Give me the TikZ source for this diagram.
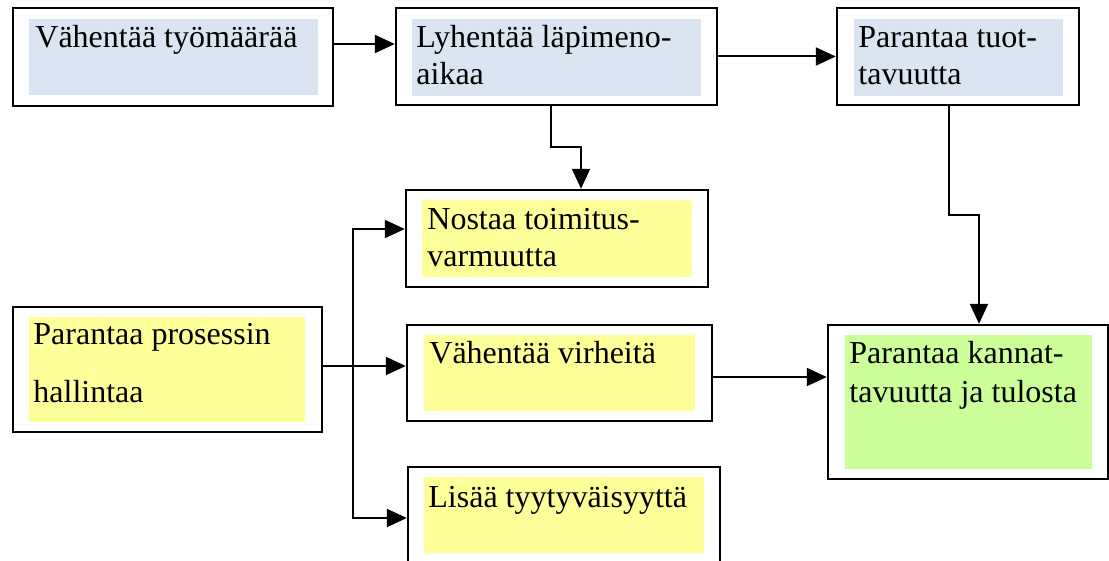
\documentclass[tikz,border=0pt]{standalone}
\usepackage{fontspec}
\setmainfont{Liberation Serif}
\newfontfamily\labelface{Liberation Serif}
\usetikzlibrary{fit,arrows.meta}
\definecolor{paleblue}{HTML}{DBE5F1}
\definecolor{paleyellow}{HTML}{FFFF99}
\definecolor{palegreen}{HTML}{CCFF99}
\tikzset{
  frame/.style={draw=black, line width=1.2pt, inner sep=0pt},
  panel/.style={fill=#1, inner sep=0pt},
  txt/.style={anchor=base west, inner sep=0pt, font=\labelface\fontsize{16pt}{19pt}\selectfont},
  link/.style={line width=1pt, -{Triangle[length=10pt,width=9pt]}}
}
\begin{document}
\begin{tikzpicture}[x=0.5pt,y=-0.5pt]
\useasboundingbox (0,0) rectangle (1109,561);
\clip (0,0) rectangle (1109,561);
\fill[white] (0,0) rectangle (1109,561);

% top row
\node[panel=paleblue, fit={(29,19) (318,95)}] (b1in) {};
\node[frame, fit={(13,8) (333,106)}] (b1) {};
\node[txt] (b1t1) at (35,48) {Vähentää työmäärää};

\node[panel=paleblue, fit={(412,19) (701,96)}] (b2in) {};
\node[frame, fit={(396,8) (717,105)}] (b2) {};
\node[txt] (b2t1) at (416,48) {Lyhentää läpimeno-};
\node[txt] (b2t2) at (416,85) {aikaa};

\node[panel=paleblue, fit={(854,19) (1063,96)}] (b3in) {};
\node[frame, fit={(837,8) (1079,105)}] (b3) {};
\node[txt] (b3t1) at (858,48) {Parantaa tuot-};
\node[txt] (b3t2) at (858,85) {tavuutta};

% middle column
\node[panel=paleyellow, fit={(422,200) (692,277)}] (n1in) {};
\node[frame, fit={(406,190) (708,287)}] (n1) {};
\node[txt] (n1t1) at (427,230) {Nostaa toimitus-};
\node[txt] (n1t2) at (427,267) {varmuutta};

\node[panel=paleyellow, fit={(424,335) (695,411)}] (n2in) {};
\node[frame, fit={(407,325) (712,421)}] (n2) {};
\node[txt] (n2t1) at (429,364) {Vähentää virheitä};

\node[panel=paleyellow, fit={(424,477) (704,553)}] (n3in) {};
\node[frame, fit={(408,467) (720,566)}] (n3) {};
\node[txt] (n3t1) at (428,507) {Lisää tyytyväisyyttä};

% left box
\node[panel=paleyellow, fit={(29,317) (305,422)}] (p1in) {};
\node[frame, fit={(13,307) (322,432)}] (p1) {};
\node[txt] (p1t1) at (33,345) {Parantaa prosessin};
\node[txt] (p1t2) at (33,402) {hallintaa};

% right box
\node[panel=palegreen, fit={(845,335) (1092,469)}] (r1in) {};
\node[frame, fit={(828,325) (1108,479)}] (r1) {};
\node[txt] (r1t1) at (849,364) {Parantaa kannat-};
\node[txt] (r1t2) at (849,402) {tavuutta ja tulosta};

% connectors
\draw[link] (b1.east |- 0,44) -- (b2.west |- 0,44);
\draw[link] (b2.east) -- (b3.west);
\draw[link] (b2.south -| 551,0) -- (551,147) -| (n1.north -| 581,0);
\draw[link] (b3.south -| 949,0) -- (949,215) -| (r1.north -| 979,0);
\coordinate (split) at (353,366);
\draw[link] (p1.east |- split) -- (n2.west |- split);
\draw[link] (split) |- (n1.west |- 0,229);
\draw[link] (split) |- (n3.west |- 0,518);
\draw[link] (n2.east |- 0,377) -- (r1.west |- 0,377);
\end{tikzpicture}
\end{document}
